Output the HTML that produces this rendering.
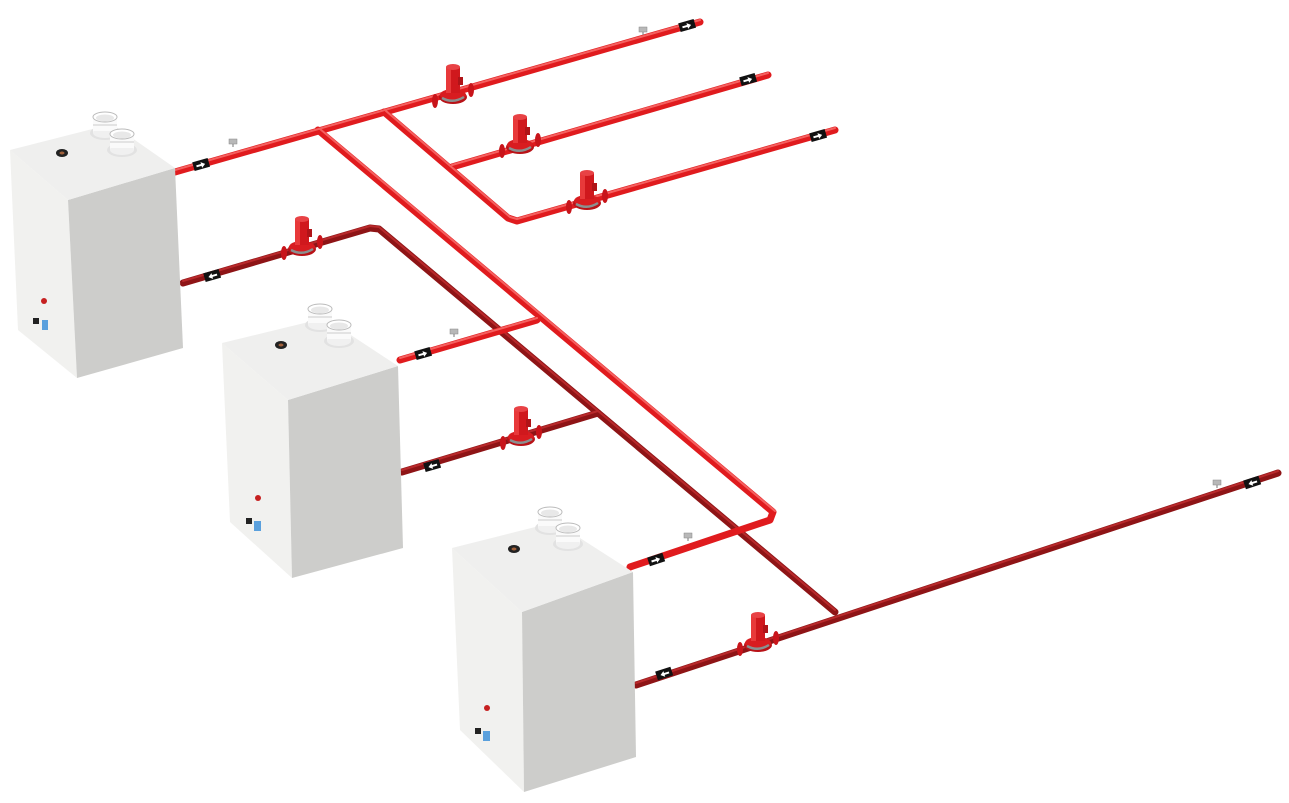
<!DOCTYPE html>
<html><head><meta charset="utf-8"><style>
html,body{margin:0;padding:0;background:#fff;}
svg{display:block;}
</style></head><body>
<svg width="1289" height="803" viewBox="0 0 1289 803" xmlns="http://www.w3.org/2000/svg">
<defs>
<g id="pump">
  <ellipse cx="-18" cy="6" rx="3" ry="7" fill="#c8141a"/>
  <ellipse cx="18" cy="-5" rx="3" ry="7" fill="#c8141a"/>
  <ellipse cx="0" cy="2" rx="14" ry="7" fill="#b81217"/>
  <ellipse cx="0" cy="0" rx="13" ry="6" fill="#d81c20"/>
  <path d="M-11 3 Q0 9 11 2" stroke="#8a9090" stroke-width="2.5" fill="none"/>
  <rect x="-7" y="-28" width="14" height="26" fill="#d0181d"/>
  <rect x="-7" y="-28" width="5" height="26" fill="#e8393a"/>
  <rect x="5" y="-18" width="5" height="8" fill="#b01418"/>
  <ellipse cx="0" cy="-28" rx="7" ry="3" fill="#e84245"/>
</g>
<g id="tagR">
  <rect x="-8" y="-4" width="16" height="9" fill="#111"/>
  <path d="M-5 0 h5 v-2 l4 3 l-4 3 v-2 h-5z" fill="#fff"/>
</g>
<g id="tagL">
  <rect x="-8" y="-4" width="16" height="9" fill="#111"/>
  <path d="M5 0 h-5 v-2 l-4 3 l4 3 v-2 h5z" fill="#fff"/>
</g>
<g id="sensor">
  <rect x="-4" y="-4" width="8" height="5" fill="#b8b8b8" stroke="#888" stroke-width="0.5"/>
  <line x1="0" y1="1" x2="0" y2="4" stroke="#777" stroke-width="1"/>
</g>
<g id="flue">
  <ellipse cx="0" cy="0" rx="15" ry="7" fill="#e2e2e2"/>
  <rect x="-12" y="-16" width="24" height="16" fill="#f7f7f7"/>
  <ellipse cx="0" cy="0" rx="12" ry="5" fill="#f0f0f0"/>
  <rect x="-12" y="-16" width="24" height="14" fill="#fafafa"/>
  <path d="M-12 -8 h24" stroke="#ccc" stroke-width="1"/>
  <ellipse cx="0" cy="-16" rx="12" ry="5" fill="#fff" stroke="#bbb"/>
  <ellipse cx="0" cy="-15" rx="9" ry="3.5" fill="#e8e8e8"/>
</g>
</defs>

<g fill="none" stroke-linecap="round" stroke-linejoin="round">
<g stroke="#8e1416" stroke-width="7">
  <polyline points="183,283 370,228 379,229 835,612"/>
  <polyline points="402,472 598,413"/>
  <polyline points="636,685 1278,473"/>
</g>
<g stroke="#b8292b" stroke-width="2">
  <polyline points="183,281 370,226 379,227 835,610"/>
  <polyline points="402,470 598,411"/>
  <polyline points="636,683 1278,471"/>
</g>
<g stroke="#e01b1e" stroke-width="7">
  <polyline points="175,172 700,22"/>
  <polyline points="318,130 773,512 770,520 630,567"/>
  <polyline points="400,360 537,320"/>
  <polyline points="384,112 508,218 517,221 835,130"/>
  <polyline points="452,167 768,75"/>
</g>
<g stroke="#f5605f" stroke-width="2">
  <polyline points="175,170 700,20"/>
  <polyline points="320,129 775,511"/>
  <polyline points="400,358 537,318"/>
  <polyline points="386,111 510,217 517,219 835,128"/>
  <polyline points="452,165 768,73"/>
</g>
</g>

<use href="#tagR" transform="translate(201,164) rotate(-16)"/>
<use href="#tagL" transform="translate(212,275) rotate(-16)"/>
<use href="#tagR" transform="translate(423,353) rotate(-16)"/>
<use href="#tagL" transform="translate(432,465) rotate(-16)"/>
<use href="#tagR" transform="translate(656,559) rotate(-18)"/>
<use href="#tagL" transform="translate(664,673) rotate(-18)"/>
<use href="#tagR" transform="translate(687,25) rotate(-16)"/>
<use href="#tagR" transform="translate(748,79) rotate(-16)"/>
<use href="#tagR" transform="translate(818,135) rotate(-16)"/>
<use href="#tagL" transform="translate(1252,482) rotate(-18)"/>
<use href="#sensor" transform="translate(233,143)"/>
<use href="#sensor" transform="translate(643,31)"/>
<use href="#sensor" transform="translate(454,333)"/>
<use href="#sensor" transform="translate(688,537)"/>
<use href="#sensor" transform="translate(1217,484)"/>
<use href="#pump" transform="translate(453,95)"/>
<use href="#pump" transform="translate(520,145)"/>
<use href="#pump" transform="translate(587,201)"/>
<use href="#pump" transform="translate(302,247)"/>
<use href="#pump" transform="translate(521,437)"/>
<use href="#pump" transform="translate(758,643)"/>

<g>
  <polygon points="10,150 68,200 77,378 18,330" fill="#f1f1ef"/>
  <polygon points="68,200 175,168 183,348 77,378" fill="#cdcdcb"/>
  <polygon points="10,150 112,124 175,168 68,200" fill="#efefee"/>
  <ellipse cx="62" cy="153" rx="6" ry="4" fill="#222"/><ellipse cx="62" cy="153" rx="2.5" ry="1.5" fill="#a0603a"/>
  <use href="#flue" transform="translate(105,133)"/>
  <use href="#flue" transform="translate(122,150)"/>
  <circle cx="44" cy="301" r="3" fill="#c62020"/>
  <rect x="33" y="318" width="6" height="6" fill="#222"/><rect x="42" y="320" width="6" height="10" fill="#5aa0dd"/>
</g>
<g>
  <polygon points="222,343 288,400 292,578 230,522" fill="#f1f1ef"/>
  <polygon points="288,400 398,366 403,548 292,578" fill="#cdcdcb"/>
  <polygon points="222,343 325,318 398,366 288,400" fill="#efefee"/>
  <ellipse cx="281" cy="345" rx="6" ry="4" fill="#222"/><ellipse cx="281" cy="345" rx="2.5" ry="1.5" fill="#a0603a"/>
  <use href="#flue" transform="translate(320,325)"/>
  <use href="#flue" transform="translate(339,341)"/>
  <circle cx="258" cy="498" r="3" fill="#c62020"/>
  <rect x="246" y="518" width="6" height="6" fill="#222"/><rect x="254" y="521" width="7" height="10" fill="#5aa0dd"/>
</g>
<g>
  <polygon points="452,548 522,612 524,792 460,730" fill="#f1f1ef"/>
  <polygon points="522,612 633,572 636,757 524,792" fill="#cdcdcb"/>
  <polygon points="452,548 555,522 633,572 522,612" fill="#efefee"/>
  <ellipse cx="514" cy="549" rx="6" ry="4" fill="#222"/><ellipse cx="514" cy="549" rx="2.5" ry="1.5" fill="#a0603a"/>
  <use href="#flue" transform="translate(550,528)"/>
  <use href="#flue" transform="translate(568,544)"/>
  <circle cx="487" cy="708" r="3" fill="#c62020"/>
  <rect x="475" y="728" width="6" height="6" fill="#222"/><rect x="483" y="731" width="7" height="10" fill="#5aa0dd"/>
</g>
</svg>
</body></html>
